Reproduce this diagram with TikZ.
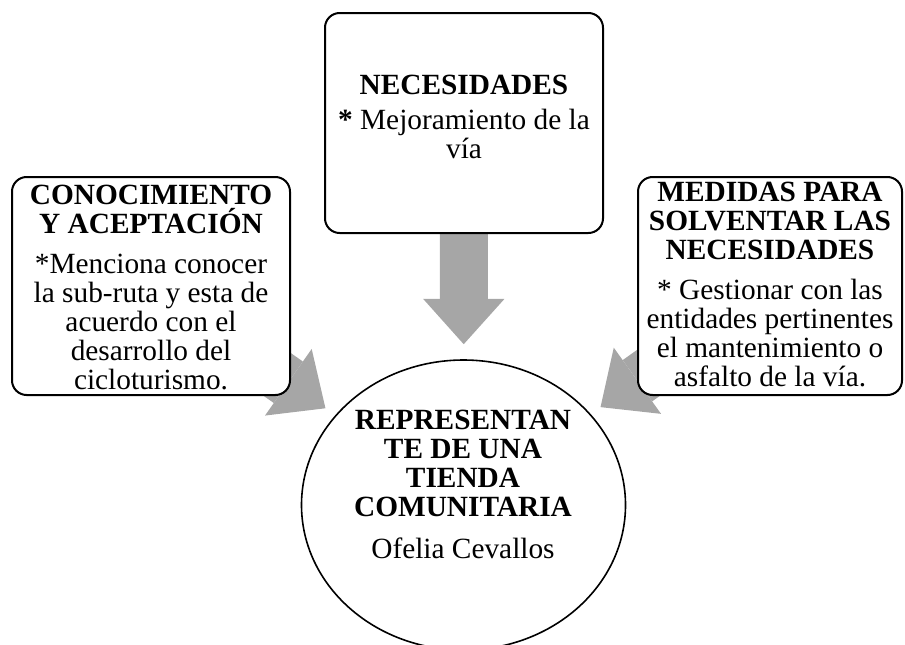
\documentclass[tikz,border=0pt]{standalone}
\usepackage{fontspec}
\setmainfont{Liberation Serif}[BoldFont={Liberation Serif Bold}]
\usetikzlibrary{shapes.geometric,arrows.meta,backgrounds}
\begin{document}
\begin{tikzpicture}[x=0.75pt,y=-0.75pt,
    panel/.style={draw,line width=1.5pt,rounded corners=11pt,fill=white},
    blurb/.style={align=center,inner sep=0pt,anchor=north,font=\fontsize{22}{21.75}\selectfont},
    feed/.style={line width=#1,black!35,-{Triangle[width=61pt,length=34pt,line width=0pt]}}]
    \useasboundingbox (0,0) rectangle (905,644);
    % boxes and the circle
    \node [panel,minimum width=208.5pt,minimum height=165pt] (need) at (464,123) {};
    \node [panel,minimum width=208.5pt,minimum height=163.5pt] (know) at (151,286) {};
    \node [panel,minimum width=198pt,minimum height=163.5pt] (fix) at (770,286) {};
    \node [ellipse,draw,line width=1.2pt,fill=white,minimum width=243pt,minimum height=217.5pt] (rep) at (463.5,505) {};
    % texts
    \node [blurb] (needT) at (464,74.5) {\textbf{NECESIDADES}\\[4.5pt]
        \textbf{*} Mejoramiento de la\\ vía};
    \node [blurb] (knowT) at (151,184.5) {\textbf{CONOCIMIENTO}\\ \textbf{Y ACEPTACIÓN}\\[8.25pt]
        *Menciona conocer\\ la sub-ruta y esta de\\ acuerdo con el\\ desarrollo del\\ cicloturismo.};
    \node [blurb] (fixT) at (770,181.5) {\textbf{MEDIDAS PARA}\\ \textbf{SOLVENTAR LAS}\\ \textbf{NECESIDADES}\\[8.25pt]
        * Gestionar con las\\ entidades pertinentes\\ el mantenimiento o\\ asfalto de la vía.};
    \node [blurb] (repT) at (463,409.5) {\textbf{REPRESENTAN}\\ \textbf{TE DE UNA}\\ \textbf{TIENDA}\\ \textbf{COMUNITARIA}\\[9.75pt]
        Ofelia Cevallos};
    % gray arrows behind
    \begin{pgfonlayer}{background}
        \draw [feed=36pt,shorten >=11.25pt] (need.center) -- (rep);
        \draw [feed=38pt,shorten >=9pt] (know.center) -- (rep);
        \draw [feed=38pt,shorten >=9pt] (fix.center) -- (rep);
    \end{pgfonlayer}
\end{tikzpicture}
\end{document}
